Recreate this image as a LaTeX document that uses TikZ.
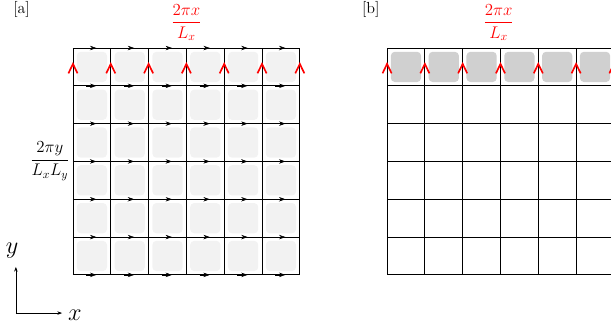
\documentclass[tikz,border=0pt]{standalone}
\usepackage{amsmath}
\usetikzlibrary{arrows.meta}
\definecolor{cellfill}{HTML}{F2F2F2}
\definecolor{bandfill}{HTML}{D0D0D0}
\definecolor{wrapred}{HTML}{FF0000}

\begin{document}
\begin{tikzpicture}[
    x=11.34mm, y=11.34mm,
    font=\fontsize{13.7}{16}\selectfont,
    >={Stealth[length=4pt,width=3pt]},
    gridline/.style={draw=black, line width=0.7pt},
    cellbox/.style={fill=cellfill, rounded corners=3.4pt},
    bandbox/.style={fill=bandfill, rounded corners=3.4pt},
    flowtip/.style={-{Stealth[length=5.5pt,width=3.8pt]}, line width=0.5pt},
    wrap/.style={draw=wrapred, line width=1.4pt},
    phase/.style={text=wrapred},
    axis/.style={->, line width=0.5pt},
    axlabel/.style={font=\fontsize{21}{24}\selectfont},
]
\useasboundingbox (-1.93,-1.40) rectangle (14.23,7.27);
\clip (-1.93,-1.40) rectangle (14.23,7.27);

% ---------------- Panel a: full lattice ----------------
\foreach \i in {0,...,5}
  \foreach \j in {0,...,5}
    \fill[cellbox] (\i+0.1,\j+0.1) rectangle (\i+0.9,\j+0.9);

\foreach \k in {0,...,6} {
  \draw[gridline] (\k,0) -- (\k,6);
  \draw[gridline] (0,\k) -- (6,\k);
}

% links along x
\foreach \i in {0,...,5}
  \foreach \j in {0,...,6}
    \draw[flowtip] (\i+0.35,\j) -- (\i+0.62,\j);

\foreach \k in {0,...,6}
  \draw[wrap] (\k-0.12,5.33) -- (\k,5.58) -- (\k+0.12,5.33);

\node (taga) at (-1.36,7.03) {[a]};
\node[phase] (kxa) at (3,6.67) {$\dfrac{2\pi x}{L_x}$};
\node (ky) at (-0.61,3.0) {$\dfrac{2\pi y}{L_x L_y}$};

% ---------------- Panel b: top band only ----------------
\begin{scope}[xshift=8.307*11.34mm]
  \foreach \i in {0,...,5}
    \fill[bandbox] (\i+0.1,5.1) rectangle (\i+0.9,5.9);

  \foreach \k in {0,...,6} {
    \draw[gridline] (\k,0) -- (\k,6);
    \draw[gridline] (0,\k) -- (6,\k);
  }

  \foreach \k in {0,...,6}
    \draw[wrap] (\k-0.12,5.33) -- (\k,5.58) -- (\k+0.12,5.33);

  \node (tagb) at (-0.43,7.03) {[b]};
  \node[phase] (kxb) at (2.95,6.67) {$\dfrac{2\pi x}{L_x}$};
\end{scope}

% ---------------- axes ----------------
\coordinate (orig) at (-1.51,-1.01);
\coordinate (ytip) at (-1.51,0.21);
\coordinate (xtip) at (-0.29,-1.01);
\draw[axis] (orig) -- (ytip);
\draw[axis] (orig) -- (xtip);
\node[axlabel] (ylab) at (-1.61,0.63) {$y$};
\node[axlabel] (xlab) at (0.05,-1.08) {$x$};

\end{tikzpicture}
\end{document}
